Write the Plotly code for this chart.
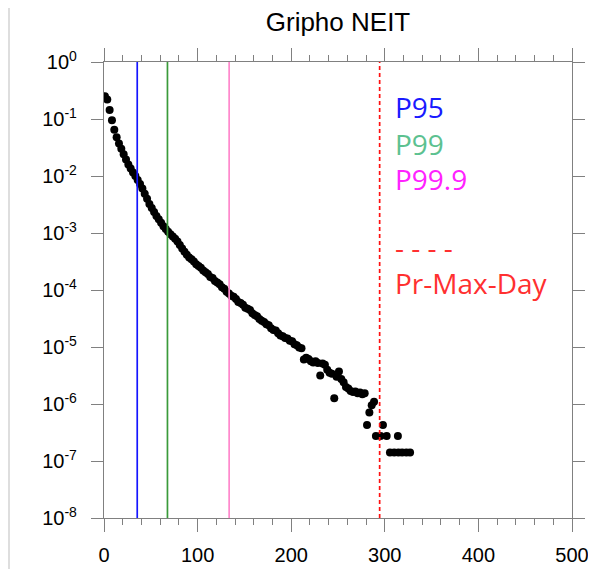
import plotly.graph_objects as go

# ---- data ----
rain_mm = [1, 3.5, 6, 8.5, 11, 13.5, 16, 18.5, 21, 23.5, 26, 28.5, 31, 33.5, 36, 38.5, 41, 43.5, 46, 48.5,
           51, 53.5, 56, 58.5, 61, 63.5, 66, 68.5, 71, 73.5, 76, 78.5, 81, 83.5, 86, 88.5, 91, 93.5, 96, 98.5,
           101, 103.5, 106, 108.5, 111, 113.5, 116, 118.5, 121, 123.5, 126, 128.5, 131, 133.5, 136, 138.5,
           141, 143.5, 146, 148.5, 151, 153.5, 156, 158.5, 161, 163.5, 166, 168.5, 171, 173.5, 176, 178.5,
           181, 183.5, 186, 188.5, 191, 193.5, 196, 198.5, 201, 203.5, 206, 208.5, 211, 213.5, 216, 218.5,
           221, 223.5, 226, 228.5, 231, 233.5, 236, 238.5, 241, 243.5, 246, 248.5, 251, 253.5, 256, 258.5,
           261, 263.5, 266, 268.5, 271, 273.5, 276, 278.5, 281, 283.5, 286, 288.5, 290.5, 295.5, 298, 302,
           305.5, 310, 314, 314.5, 318.5, 323, 327]
log10_freq = [-0.60, -0.66, -0.84, -1.02, -1.19, -1.32, -1.43, -1.52, -1.62, -1.71, -1.80, -1.87, -1.94, -2.00,
              -2.07, -2.14, -2.22, -2.31, -2.40, -2.49, -2.56, -2.63, -2.70, -2.76, -2.82, -2.88, -2.93, -2.98,
              -3.02, -3.06, -3.10, -3.15, -3.21, -3.27, -3.33, -3.38, -3.43, -3.46, -3.50, -3.55, -3.58, -3.61,
              -3.66, -3.69, -3.72, -3.77, -3.79, -3.84, -3.87, -3.90, -3.95, -3.98, -4.03, -4.06, -4.10, -4.12,
              -4.16, -4.21, -4.23, -4.26, -4.31, -4.33, -4.35, -4.41, -4.44, -4.46, -4.51, -4.54, -4.56, -4.60,
              -4.62, -4.67, -4.70, -4.71, -4.76, -4.80, -4.81, -4.84, -4.85, -4.89, -4.90, -4.95, -4.97, -5.01,
              -5.02, -5.22, -5.19, -5.21, -5.25, -5.27, -5.25, -5.28, -5.50, -5.29, -5.31, -5.40, -5.45, -5.47,
              -5.90, -5.52, -5.43, -5.56, -5.62, -5.70, -5.73, -5.77, -5.79, -5.78, -5.81, -5.80, -5.83, -5.81,
              -6.37, -6.15, -6.02, -5.96, -6.56, -6.56, -6.37, -6.56,
              -6.85, -6.85, -6.56, -6.85, -6.85, -6.85, -6.85]
freq = [10 ** v for v in log10_freq]

p95 = 35.5
p99 = 67.8
p999 = 133.7
pr_max_day = 294.5

x_ticks = [0, 100, 200, 300, 400, 500]
y_exps = [0, -1, -2, -3, -4, -5, -6, -7, -8]
y_tickvals = [10.0 ** e for e in y_exps]
y_ticktext = ["10<sup>%d</sup>" % e for e in y_exps]

legend_labels = ["P95", "P99", "P99.9", "- - - -", "Pr-Max-Day"]
legend_colors = ["#1a1aff", "#5cc190", "#ff22ff", "#ff3030", "#ff3030"]
legend_ypos = [0.901, 0.821, 0.744, 0.594, 0.515]

title_text = "Gripho NEIT"

# ---- figure ----
fig = go.Figure()
fig.add_trace(go.Scatter(x=rain_mm, y=freq, mode="markers",
                         marker=dict(color="black", size=8, line=dict(width=0)),
                         showlegend=False, hoverinfo="x+y"))

line_specs = [(p95, "#1515ff", "solid"), (p99, "#3a9a3a", "solid"),
              (p999, "#ff88cc", "solid"), (pr_max_day, "#ff1010", "4px,3px")]
for xv, col, dash in line_specs:
    fig.add_shape(type="line", xref="x", yref="paper", x0=xv, x1=xv, y0=0, y1=1,
                  line=dict(color=col, width=1.7, dash=dash), layer="above")

# outer frame lines of the source image
for px in (-0.203, 1.046):
    fig.add_shape(type="line", xref="paper", yref="paper", x0=px, x1=px, y0=-0.2, y1=1.2,
                  line=dict(color="#c8c8c8", width=1.2), layer="above")

for lab, col, yp in zip(legend_labels, legend_colors, legend_ypos):
    fig.add_annotation(text=lab, xref="paper", yref="paper", x=0.617, y=yp,
                       xanchor="left", yanchor="middle", showarrow=False,
                       font=dict(family="Open Sans, Noto Sans, sans-serif", size=28, color=col))

fig.add_annotation(text="(", xref="paper", yref="paper", x=1.041, y=0.917,
                   xanchor="left", yanchor="middle", showarrow=False,
                   font=dict(family="Liberation Sans, Arial, sans-serif", size=24, color="black"))

axis_font = dict(family="Liberation Sans, Arial, Helvetica, sans-serif", size=20, color="black")

# the page has an 8px body margin, so the figure is 8px smaller than the window
fig.update_layout(
    width=588, height=561,
    margin=dict(l=96, r=24, t=54, b=51, autoexpand=False),
    paper_bgcolor="white", plot_bgcolor="white",
    title=dict(text=title_text, x=0.5, xref="paper", y=1 - 14 / 561, yref="container",
               xanchor="center", yanchor="middle",
               font=dict(family="Liberation Sans, Arial, Helvetica, sans-serif", size=26, color="black")),
    xaxis=dict(range=[0, 500], tickvals=x_ticks, ticks="outside", ticklen=13, tickwidth=1.2,
               tickcolor="#808080", showline=True, linecolor="#808080", linewidth=1.2,
               mirror="ticks", showgrid=False, zeroline=False, tickfont=axis_font,
               ticklabelstandoff=6,
               minor=dict(dtick=20, ticks="outside", ticklen=6, tickwidth=1.2, tickcolor="#808080",
                          showgrid=False)),
    yaxis=dict(type="log", range=[-8, 0], tickvals=y_tickvals, ticktext=y_ticktext,
               ticks="outside", ticklen=12, tickwidth=1.2, tickcolor="#808080",
               showline=True, linecolor="#808080", linewidth=1.2, mirror="ticks",
               showgrid=False, zeroline=False, tickfont=axis_font, ticklabelstandoff=10),
)

fig.write_html("out.html")
